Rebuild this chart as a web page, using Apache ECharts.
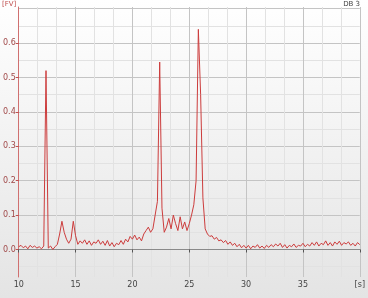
<!DOCTYPE html>
<html><head><meta charset="utf-8">
<script src="https://cdn.jsdelivr.net/npm/echarts@6/dist/echarts.min.js"></script>
<style>html,body{margin:0;padding:0;}#c{width:368px;height:298px;}</style>
</head><body><div id="c"></div>
<script>
const xTicks = [10, 15, 20, 25, 30, 35, 40];
const yTicks = [0, 0.1, 0.2, 0.3, 0.4, 0.5, 0.6];
const tStart = 10, tStep = 0.2;
const signal = [
  0.008, 0.012, 0.005, 0.010, 0.002,
  0.012, 0.006, 0.010, 0.004, 0.008,
  0.002, 0.010, 0.520, 0.004, 0.010,
  0.000, 0.008, 0.015, 0.045, 0.082,
  0.050, 0.030, 0.018, 0.030, 0.082,
  0.040, 0.015, 0.025, 0.018, 0.028,
  0.015, 0.025, 0.012, 0.022, 0.018,
  0.028, 0.015, 0.024, 0.012, 0.026,
  0.010, 0.020, 0.008, 0.018, 0.014,
  0.026, 0.015, 0.030, 0.022, 0.038,
  0.030, 0.042, 0.028, 0.036, 0.025,
  0.045, 0.055, 0.065, 0.050, 0.060,
  0.100, 0.140, 0.545, 0.120, 0.050,
  0.065, 0.090, 0.060, 0.100, 0.075,
  0.055, 0.095, 0.060, 0.080, 0.055,
  0.075, 0.100, 0.130, 0.200, 0.640,
  0.450, 0.150, 0.060, 0.045, 0.038,
  0.040, 0.030, 0.035, 0.025, 0.028,
  0.020, 0.026, 0.015, 0.022, 0.012,
  0.018, 0.008, 0.015, 0.005, 0.012,
  0.004, 0.012, 0.002, 0.010, 0.006,
  0.014, 0.004, 0.010, 0.003, 0.012,
  0.006, 0.014, 0.008, 0.016, 0.010,
  0.018, 0.006, 0.014, 0.004, 0.012,
  0.008, 0.016, 0.006, 0.012, 0.010,
  0.018, 0.008, 0.015, 0.010, 0.020,
  0.012, 0.022, 0.010, 0.018, 0.014,
  0.025, 0.012, 0.020, 0.010, 0.022,
  0.015, 0.024, 0.012, 0.020, 0.016,
  0.022, 0.012, 0.018, 0.010, 0.020,
  0.014
];
const points = signal.map((v, i) => [+(tStart + i * tStep).toFixed(2), v]);

const chart = echarts.init(document.getElementById('c'), null, {renderer: 'canvas'});
// split line colours cycle per 0.01 tick starting at -0.08: index 8 -> x.x0 (major), index 3 -> x.x5 (minor)
const T = 'rgba(0,0,0,0)';
const MAJ = '#c4c4c4', MIN = '#e2e2e2';
const yColors = [T, T, T, MIN, T, T, T, T, MAJ, T];
chart.setOption({
  animation: false,
  backgroundColor: {type: 'linear', x: 0, y: 0, x2: 0, y2: 1, colorStops: [
    {offset: 0, color: '#ffffff'}, {offset: 1, color: '#e4e4e4'}]},
  grid: {left: 18, right: 8, top: 7, bottom: 21},
  xAxis: {
    type: 'value', min: 10, max: 40, interval: 5,
    axisLine: {lineStyle: {color: '#8a8a8a', width: 1}},
    axisTick: {length: 3, lineStyle: {color: '#555'}},
    axisLabel: {color: '#444', fontSize: 8, fontFamily: 'DejaVu Sans', margin: 4,
      formatter: v => v === 40 ? '[s]' : String(v)},
    splitLine: {lineStyle: {color: MAJ, width: 1}},
    minorTick: {show: false, splitNumber: 3},
    minorSplitLine: {show: true, lineStyle: {color: MIN, width: 1}}
  },
  yAxis: [{
    type: 'value', min: -0.08, max: 0.705, interval: 0.01,
    axisLine: {show: true, lineStyle: {color: '#d07070', width: 1}},
    axisTick: {show: false},
    axisLabel: {show: false},
    splitLine: {show: true, lineStyle: {color: yColors, width: 1}}
  }, {
    type: 'value', min: -0.08, max: 0.705, position: 'left', offset: 0,
    axisLine: {show: false},
    axisTick: {show: true, length: 3, customValues: yTicks, lineStyle: {color: '#c05050'}},
    axisLabel: {show: true, customValues: yTicks, color: '#a04848', fontSize: 8, fontFamily: 'DejaVu Sans', margin: 3,
      formatter: v => v.toFixed(1)},
    splitLine: {show: false}
  }],
  graphic: [
    {type: 'text', left: 2, top: 1, style: {text: '[FV]', fill: '#c05050', font: '7px DejaVu Sans'}},
    {type: 'text', right: 8, top: 1, style: {text: 'DB 3', fill: '#444', font: '7px DejaVu Sans'}}
  ],
  series: [{
    type: 'line', data: points, yAxisIndex: 0, showSymbol: false, symbol: 'none',
    lineStyle: {color: '#cc3c3c', width: 1}, clip: true
  }]
});
</script></body></html>
